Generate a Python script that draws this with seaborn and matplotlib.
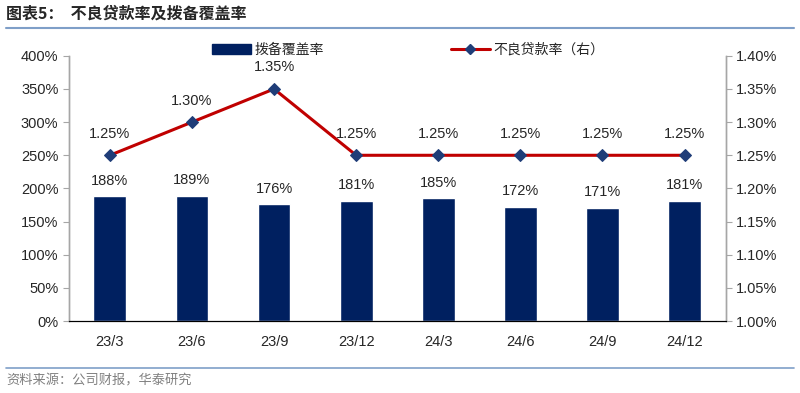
import numpy as np
import pandas as pd
import matplotlib
matplotlib.use("Agg")
import matplotlib.pyplot as plt
import seaborn as sns
from matplotlib.lines import Line2D
from matplotlib.patches import Patch

quarters = ["23/3", "23/6", "23/9", "23/12", "24/3", "24/6", "24/9", "24/12"]
coverage = [188, 189, 176, 181, 185, 172, 171, 181]  # 拨备覆盖率 (%)
npl = [1.25, 1.30, 1.35, 1.25, 1.25, 1.25, 1.25, 1.25]  # 不良贷款率 (%)

df = pd.DataFrame({"quarter": quarters, "coverage": coverage, "npl": npl})
df["pos"] = np.arange(len(df))

sns.set_style("white")
plt.rcParams["font.family"] = ["Liberation Sans", "Noto Sans CJK SC", "DejaVu Sans"]
cjk = ["Noto Sans CJK SC", "DejaVu Sans"]

navy = "#002060"
red = "#C00000"
grey = "#A6A6A6"

fig = plt.figure(figsize=(8, 3.93), dpi=100)
ax = fig.add_axes([0.086, 0.183, 0.821, 0.675])

sns.barplot(data=df, x="quarter", y="coverage", color=navy, width=0.4,
            saturation=1, ax=ax)
ax.set_xlim(-0.5, len(df) - 0.5)
ax.set_ylim(0, 400)
ax.set_yticks(range(0, 401, 50))
ax.set_yticklabels([f"{v}%" for v in range(0, 401, 50)], fontsize=10.5)
ax.set_xlabel("")
ax.set_ylabel("")
ax.set_xticks(df["pos"])
ax.set_xticklabels(quarters, fontsize=10.5)
ax.tick_params(axis="x", length=0, pad=10)
ax.set_xticks(np.arange(-0.5, len(df), 1), minor=True)
ax.tick_params(axis="x", which="minor", length=4, color="black", direction="out")
ax.tick_params(axis="y", length=4, color=grey, direction="out", left=True)
for v, p in zip(df["coverage"], df["pos"]):
    ax.text(p, v + 13, f"{v}%", ha="center", va="bottom", fontsize=10.5)

ax2 = ax.twinx()
sns.lineplot(data=df, x="pos", y="npl", color=red, linewidth=2.2, marker="D",
             markersize=6, markerfacecolor="#1F3D78", markeredgecolor="#1F3D78",
             ax=ax2)
ax2.set_ylim(1.00, 1.40)
rt = np.arange(1.00, 1.401, 0.05)
ax2.set_yticks(rt)
ax2.set_yticklabels([f"{v:.2f}%" for v in rt], fontsize=10.5)
ax2.set_ylabel("")
ax2.tick_params(axis="y", length=4, color=grey, direction="out", right=True)
for v, p in zip(df["npl"], df["pos"]):
    ax2.text(p, v + 0.022, f"{v:.2f}%", ha="center", va="bottom", fontsize=10.5)

for a in (ax, ax2):
    a.spines["top"].set_visible(False)
    a.spines["left"].set_color(grey)
    a.spines["right"].set_color(grey)
    a.spines["bottom"].set_color("black")
    a.spines["left"].set_linewidth(1)
    a.spines["right"].set_linewidth(1)

handles = [Patch(facecolor=navy, edgecolor=navy),
           Line2D([0], [0], color=red, linewidth=2.2, marker="D", markersize=5,
                  markerfacecolor="#1F3D78", markeredgecolor="#1F3D78")]
fig.legend(handles, ["拨备覆盖率", "不良贷款率（右）"], loc="center left",
           bbox_to_anchor=(0.258, 0.873), ncol=2, frameon=False,
           columnspacing=9.1, handlelength=2.8, handletextpad=0.3,
           borderaxespad=0, prop={"family": cjk, "size": 10})

fig.text(0.008, 0.965, "图表5：  不良贷款率及拨备覆盖率", fontsize=11.5,
         fontweight="bold", family=cjk, ha="left", va="center")
fig.add_artist(Line2D([0.008, 0.992], [0.93, 0.93], color="#7F9FC8", linewidth=1.5))
fig.add_artist(Line2D([0.008, 0.992], [0.063, 0.063], color="#7F9FC8", linewidth=1.2))
fig.text(0.008, 0.03, "资料来源：公司财报，华泰研究", fontsize=9.5, color="#808080",
         family=cjk, ha="left", va="center")

fig.savefig("out.png", dpi=100)
